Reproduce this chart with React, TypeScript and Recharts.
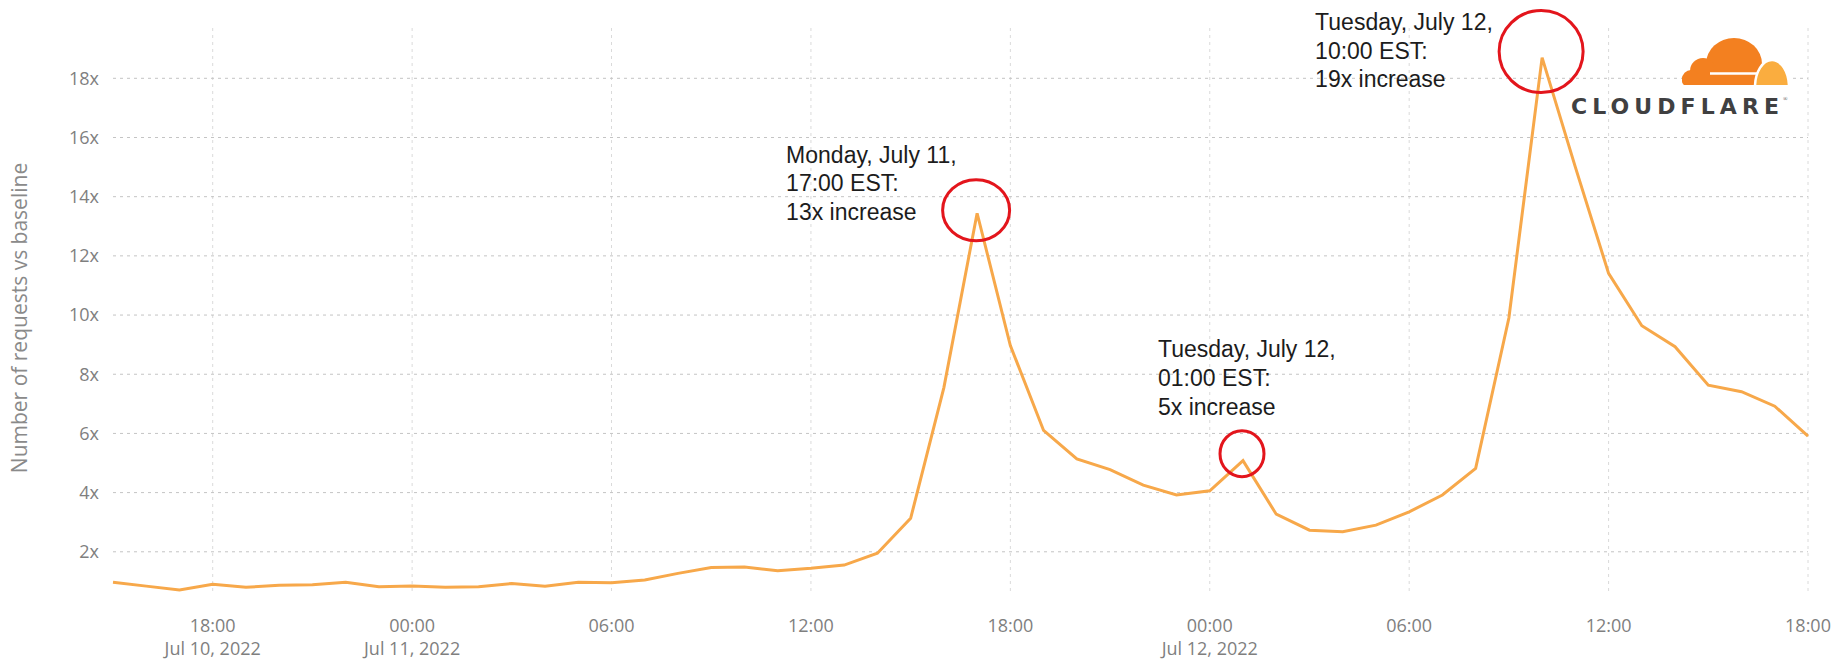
import React from 'react';
import { LineChart, Line, XAxis, YAxis, CartesianGrid, ReferenceDot } from 'recharts';

// hours since Jul 10 2022 00:00 (EST), one point per hour
const hours = [
  15, 16, 17, 18, 19, 20, 21, 22, 23, 24, 25, 26, 27, 28, 29, 30, 31, 32, 33,
  34, 35, 36, 37, 38, 39, 40, 41, 42, 43, 44, 45, 46, 47, 48, 49, 50, 51, 52,
  53, 54, 55, 56, 57, 58, 59, 60, 61, 62, 63, 64, 65, 66,
];

// request volume relative to baseline
const requestMultiplier = [
  0.97, 0.84, 0.71, 0.9, 0.8, 0.87, 0.89, 0.97, 0.82, 0.84, 0.8, 0.82, 0.93,
  0.84, 0.97, 0.95, 1.05, 1.27, 1.47, 1.49, 1.36, 1.44, 1.55, 1.95, 3.13, 7.55,
  13.44, 8.97, 6.1, 5.14, 4.78, 4.25, 3.92, 4.06, 5.08, 3.27, 2.73, 2.68, 2.9,
  3.35, 3.92, 4.82, 9.9, 18.7, 15.0, 11.41, 9.64, 8.93, 7.63, 7.41, 6.92, 5.91,
];

const yTicks = [2, 4, 6, 8, 10, 12, 14, 16, 18];
const xTicks = [18, 24, 30, 36, 42, 48, 54, 60, 66];
const xTickDates = ['Jul 10, 2022', 'Jul 11, 2022', '', '', '', 'Jul 12, 2022', '', '', ''];

const peakHours = [41, 49, 58];
const peakDays = ['Monday, July 11,', 'Tuesday, July 12,', 'Tuesday, July 12,'];

const data = hours.map((hour, i) => ({ hour, value: requestMultiplier[i] }));

const hhmm = (h: number) => `${String(h % 24).padStart(2, '0')}:00`;

// where each callout sits relative to its peak
const noteLayout = [
  { tx: -191, ty: -50.6, cdx: -1, cdy: -3, rx: 33.5, ry: 30.5 },
  { tx: -85, ty: -103.3, cdx: -1, cdy: -7, rx: 22, ry: 23 },
  { tx: -227, ty: -27.6, cdx: -1, cdy: -6, rx: 42, ry: 41 },
];

const GREY = '#7f7f7f';
const AXIS_FONT = "'Open Sans', 'Noto Sans', sans-serif";

const XTick = (props: any) => {
  const { x, y, payload } = props;
  const idx = xTicks.indexOf(payload.value);
  const date = xTickDates[idx];
  return (
    <g>
      <text x={x} y={y + 36.5} textAnchor="middle" fontFamily={AXIS_FONT} fontSize={18} fill={GREY}>
        {hhmm(payload.value)}
      </text>
      {date && (
        <text x={x} y={y + 60} textAnchor="middle" fontFamily={AXIS_FONT} fontSize={18} fill={GREY}>
          {date}
        </text>
      )}
    </g>
  );
};

const PeakNote = ({ cx, cy, lines, layout }: any) => (
  <g>
    <ellipse
      cx={cx + layout.cdx}
      cy={cy + layout.cdy}
      rx={layout.rx}
      ry={layout.ry}
      fill="none"
      stroke="#e3151c"
      strokeWidth={3}
    />
    {lines.map((t: string, i: number) => (
      <text
        key={i}
        x={cx + layout.tx}
        y={cy + layout.ty + i * 28.7}
        fontFamily="'Liberation Sans', Arial, sans-serif"
        fontSize={23}
        fill="#1c1c1c"
      >
        {t}
      </text>
    ))}
  </g>
);

const Logo = () => (
  <svg width={1835} height={659} style={{ position: 'absolute', left: 0, top: 0, pointerEvents: 'none' }}>
    <defs>
      <clipPath id="cloudBase">
        <rect x={1670} y={30} width={130} height={55} />
      </clipPath>
    </defs>
    <g clipPath="url(#cloudBase)">
      <g fill="#f38020">
        <ellipse cx={1734} cy={64} rx={28} ry={26} />
        <circle cx={1703} cy={71} r={13} />
        <circle cx={1691} cy={79} r={9} />
        <rect x={1682} y={74} width={80} height={12} rx={5} />
      </g>
      <ellipse cx={1772} cy={87} rx={17} ry={27} fill="#faad3f" stroke="#fff" strokeWidth={2.5} />
      <path d="M1710 73.5 L1758 73.5" stroke="#fff" strokeWidth={2.5} />
    </g>
    <text
      x={1571}
      y={114}
      fontFamily="'DejaVu Sans', sans-serif"
      fontWeight="bold"
      fontSize={22}
      fill="#404041"
      textLength={208}
      lengthAdjust="spacing"
    >
      CLOUDFLARE
    </text>
    <text x={1783} y={101} fontSize={6} fill="#404041">®</text>
    <text
      x={20}
      y={318}
      dy="0.35em"
      textAnchor="middle"
      transform="rotate(-90 20 318)"
      fontFamily={AXIS_FONT}
      fontSize={21}
      fill="#8a8a8a"
    >
      Number of requests vs baseline
    </text>
  </svg>
);

export default function App() {
  return (
    <div style={{ position: 'absolute', left: 0, top: 0, width: 1835, height: 659, background: '#fff' }}>
      <LineChart width={1835} height={659} data={data} margin={{ top: 28, right: 27, bottom: 0, left: 0 }}>
        <CartesianGrid horizontal={false} syncWithTicks stroke="#dadada" strokeDasharray="3 4" />
        <CartesianGrid vertical={false} syncWithTicks stroke="#c4c4c4" strokeDasharray="3 4" />
        <XAxis
          dataKey="hour"
          type="number"
          domain={[15, 66]}
          ticks={xTicks}
          interval={0}
          height={64}
          tickLine={false}
          axisLine={false}
          tickSize={0}
          tickMargin={0}
          tick={<XTick />}
        />
        <YAxis
          type="number"
          domain={[0.54, 19.7]}
          ticks={yTicks}
          interval={0}
          width={113}
          tickLine={false}
          axisLine={false}
          tickSize={0}
          tickMargin={14}
          tickFormatter={(v: number) => `${v}x`}
          tick={{ fontFamily: AXIS_FONT, fontSize: 18, fill: GREY }}
        />
        <Line
          type="linear"
          dataKey="value"
          stroke="#f7a84a"
          strokeWidth={3}
          dot={false}
          isAnimationActive={false}
        />
        {peakHours.map((h, i) => {
          const v = requestMultiplier[hours.indexOf(h)];
          const lines = [peakDays[i], `${hhmm(h)} EST:`, `${Math.round(v)}x increase`];
          return (
            <ReferenceDot
              key={h}
              x={h}
              y={v}
              ifOverflow="visible"
              shape={(p: any) => <PeakNote cx={p.cx} cy={p.cy} lines={lines} layout={noteLayout[i]} />}
            />
          );
        })}
      </LineChart>
      <Logo />
    </div>
  );
}
